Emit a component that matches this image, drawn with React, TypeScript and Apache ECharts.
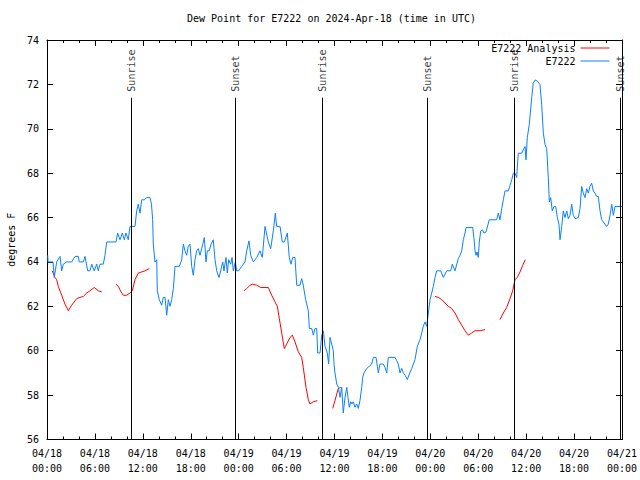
import React, { useEffect, useRef } from 'react';
import * as echarts from 'echarts';

const TITLE = 'Dew Point for E7222 on 2024-Apr-18 (time in UTC)';
const Y_AXIS_NAME = 'degrees F';
const BASE_UTC = Date.UTC(2024, 3, 18, 0, 0);
const Y_MIN = 56;
const Y_MAX = 74;
const Y_STEP = 2;
const X_MIN = 0;
const X_MAX = 72;
const X_STEP = 6;

const SERIES_NAMES = ['E7222 Analysis', 'E7222'];

// Sunrise / sunset times (hours after 2024-04-18 00:00 UTC)
const SUN_HOURS = [10.55, 23.63, 34.48, 47.62, 58.52, 71.75];
const SUN_LABELS = ['Sunrise', 'Sunset', 'Sunrise', 'Sunset', 'Sunrise', 'Sunset'];
const SUN_MARK_TOP = 71.4;

// Observed dew point E7222: [hours after 2024-04-18 00:00 UTC, degF]
const OBS: [number, number][] = [
  [0.09, 64.3], [0.13, 64.0], [0.75, 64.0], [0.91, 63.3], [1.21, 64.0], [1.63, 64.25], [1.84, 63.6],
  [2.04, 63.9], [2.47, 64.0], [3.09, 64.0], [3.51, 64.25], [3.92, 64.25], [4.04, 64.0], [4.55, 64.0],
  [4.76, 64.25], [5.1, 63.6], [5.38, 63.6], [5.6, 63.9], [5.92, 63.6], [6.22, 63.9], [6.42, 63.6],
  [6.64, 63.9], [7.05, 63.9], [7.26, 64.3], [7.48, 64.9], [8.64, 64.9], [8.85, 65.3], [9.14, 65.0],
  [9.43, 65.3], [9.68, 65.0], [9.89, 65.3], [10.18, 65.0], [10.39, 65.6], [11.02, 65.6], [11.23, 66.3],
  [11.43, 66.6], [11.65, 66.2], [11.86, 66.8], [12.18, 66.8], [12.48, 66.9], [12.9, 66.9], [13.08, 66.6],
  [13.23, 65.9], [13.31, 64.8], [13.52, 64.0], [13.74, 64.1], [13.81, 62.7], [14.06, 62.3], [14.36, 62.05],
  [14.56, 62.4], [14.78, 62.4], [14.99, 61.6], [15.19, 62.3], [15.4, 62.0], [15.61, 62.3], [15.82, 62.8],
  [16.03, 63.8], [16.57, 63.8], [16.87, 64.1], [17.07, 64.8], [17.28, 64.5], [17.49, 64.3], [17.69, 64.7],
  [17.91, 64.8], [18.12, 63.8], [18.32, 63.4], [18.53, 64.1], [18.75, 64.5], [18.95, 64.6], [19.16, 64.3],
  [19.5, 64.8], [19.7, 65.1], [19.91, 64.0], [20.07, 64.5], [20.32, 64.5], [20.54, 64.8], [20.82, 65.0],
  [21.04, 64.1], [21.25, 63.6], [21.54, 63.3], [21.75, 63.6], [22.0, 64.0], [22.16, 63.6], [22.41, 64.2],
  [22.58, 63.5], [22.75, 64.1], [23.0, 63.9], [23.17, 64.2], [23.33, 63.6], [23.58, 64.0], [23.75, 63.6],
  [24.0, 63.6], [24.38, 63.8], [24.79, 64.0], [25.01, 64.5], [25.29, 64.95], [25.51, 64.3], [25.83, 64.0],
  [26.26, 64.2], [26.67, 64.5], [26.96, 64.2], [27.3, 65.6], [27.71, 64.9], [28.01, 64.6], [28.34, 65.4],
  [28.59, 66.2], [28.76, 65.6], [29.18, 65.6], [29.46, 64.9], [29.71, 64.9], [30.09, 65.3], [30.34, 64.2],
  [30.55, 63.9], [30.77, 64.2], [31.05, 64.2], [31.27, 62.95], [31.68, 62.95], [31.89, 63.25], [32.09, 62.95],
  [32.39, 62.3], [32.72, 61.8], [32.85, 61.0], [33.15, 61.0], [33.35, 60.7], [33.56, 61.0], [33.77, 61.0],
  [33.9, 59.9], [34.19, 59.9], [34.4, 60.7], [34.6, 60.9], [34.81, 60.2], [35.1, 59.9], [35.27, 59.4],
  [35.44, 60.6], [35.65, 60.3], [35.85, 60.0], [35.94, 59.4], [36.06, 59.0], [36.28, 58.5], [36.48, 58.35],
  [36.69, 57.9], [36.9, 58.35], [37.1, 57.2], [37.32, 57.9], [37.53, 58.35], [37.69, 57.9], [37.85, 57.45],
  [38.03, 57.7], [38.19, 57.6], [38.35, 57.7], [38.57, 57.45], [38.78, 57.6], [38.98, 57.4], [39.19, 57.75],
  [39.41, 58.35], [39.53, 58.8], [39.7, 59.0], [40.03, 59.2], [40.36, 59.3], [40.66, 59.4], [40.86, 59.7],
  [41.2, 59.7], [41.49, 59.0], [41.7, 59.4], [42.11, 59.4], [42.32, 59.25], [42.54, 59.0], [42.74, 59.7],
  [43.58, 59.7], [43.79, 59.55], [43.99, 59.4], [44.2, 59.0], [44.42, 59.2], [44.62, 59.0], [44.83, 58.9],
  [45.12, 58.7], [45.37, 58.95], [45.67, 59.2], [46.08, 59.6], [46.37, 60.2], [46.71, 60.5], [46.92, 60.8],
  [47.12, 61.1], [47.33, 61.3], [47.54, 61.1], [47.75, 61.7], [47.96, 62.3], [48.17, 62.6], [48.37, 62.9],
  [48.59, 63.3], [48.8, 63.6], [49.3, 63.6], [49.63, 63.3], [50.05, 63.6], [50.55, 63.6], [50.75, 63.9],
  [51.09, 63.6], [51.5, 64.15], [51.72, 64.3], [51.93, 64.5], [52.13, 65.0], [52.34, 65.3], [52.47, 65.55],
  [53.31, 65.55], [53.47, 65.05], [53.59, 64.5], [53.72, 64.3], [53.84, 64.45], [54.01, 64.2], [54.13, 64.9],
  [54.31, 65.4], [54.53, 65.45], [54.72, 65.3], [54.97, 65.35], [55.38, 65.9], [56.31, 65.9], [56.51, 66.2],
  [56.72, 65.9], [56.94, 66.4], [57.14, 66.8], [57.35, 67.2], [57.76, 67.2], [57.98, 67.45], [58.19, 67.7],
  [58.39, 68.0], [58.6, 68.0], [58.81, 67.8], [59.01, 68.9], [59.44, 68.9], [59.64, 69.05], [59.85, 69.2],
  [59.98, 68.6], [60.14, 69.6], [60.39, 70.2], [60.69, 71.4], [60.89, 72.05], [61.11, 72.2], [61.4, 72.15],
  [61.73, 72.0], [61.94, 71.1], [62.15, 69.8], [62.36, 69.3], [62.57, 69.1], [62.77, 67.8], [62.9, 66.7],
  [63.07, 66.9], [63.27, 66.3], [63.48, 66.5], [63.7, 66.5], [63.9, 66.0], [64.11, 65.7], [64.24, 65.0],
  [64.45, 65.6], [64.65, 66.3], [64.86, 66.0], [65.08, 66.3], [65.28, 65.95], [65.49, 66.1], [65.7, 66.6],
  [65.9, 66.1], [66.12, 65.95], [66.53, 66.0], [66.74, 66.4], [66.95, 67.4], [67.15, 67.1], [67.37, 66.9],
  [67.58, 67.3], [67.78, 67.1], [67.99, 67.4], [68.2, 67.55], [68.41, 67.2], [68.62, 67.1], [68.83, 66.95],
  [69.03, 66.95], [69.25, 66.3], [69.46, 65.9], [69.87, 65.7], [70.08, 65.6], [70.28, 65.7], [70.5, 66.1],
  [70.71, 66.6], [70.92, 66.1], [71.12, 66.5], [72.0, 66.5],
];

// Analysis dew point: null marks a gap
const ANALYSIS: [number, number | null][] = [
  [0.66, 63.6], [1.0, 63.3], [1.21, 63.2], [1.41, 62.9], [1.84, 62.5], [2.25, 62.1], [2.67, 61.8],
  [3.09, 62.05], [3.72, 62.35], [4.13, 62.4], [4.55, 62.45], [4.97, 62.6], [5.38, 62.7], [5.92, 62.85],
  [6.42, 62.7], [6.85, 62.65], [7.5, null],
  [8.64, 63.0], [8.93, 62.9], [9.27, 62.65], [9.55, 62.5], [9.98, 62.5], [10.39, 62.6], [10.68, 62.7],
  [11.02, 63.2], [11.43, 63.5], [11.86, 63.55], [12.27, 63.6], [12.81, 63.7], [20.0, null],
  [24.67, 62.7], [25.01, 62.8], [25.42, 62.95], [25.76, 63.0], [26.26, 62.95], [26.76, 62.85], [27.71, 62.85],
  [28.14, 62.5], [28.55, 62.2], [28.84, 62.0], [29.09, 61.45], [29.39, 60.8], [29.71, 60.1], [30.01, 60.3],
  [30.43, 60.6], [30.72, 60.7], [31.05, 60.4], [31.47, 59.95], [31.89, 59.7], [32.09, 59.25], [32.43, 58.35],
  [32.72, 57.8], [32.93, 57.6], [33.35, 57.7], [33.85, 57.75], [34.5, null],
  [35.78, 57.4], [36.06, 57.75], [36.28, 58.05], [36.48, 58.3], [36.78, 58.35], [42.0, null],
  [48.59, 62.45], [49.0, 62.4], [49.43, 62.3], [49.84, 62.15], [50.25, 62.0], [50.68, 61.9], [51.09, 61.7],
  [51.5, 61.4], [51.93, 61.15], [52.34, 60.9], [52.75, 60.7], [53.18, 60.8], [53.59, 60.9], [54.22, 60.9],
  [54.85, 60.95], [55.5, null],
  [56.72, 61.4], [57.14, 61.7], [57.56, 61.95], [57.98, 62.35], [58.31, 62.7], [58.6, 63.2], [58.89, 63.3],
  [59.23, 63.55], [59.57, 63.85], [59.89, 64.1],
];

const FONT = 'DejaVu Sans Mono';
const BLACK = '#000000';
const RED = '#ff0000';
const BLUE = '#0a80ff';

function pad(n: number) {
  return String(n).padStart(2, '0');
}

function xLabel(v: number) {
  const d = new Date(BASE_UTC + Math.round(v * 3600000));
  return `${pad(d.getUTCMonth() + 1)}/${pad(d.getUTCDate())}\n${pad(d.getUTCHours())}:${pad(d.getUTCMinutes())}`;
}

export default function App() {
  const ref = useRef<HTMLDivElement>(null);

  useEffect(() => {
    if (!ref.current) return;
    const chart = echarts.init(ref.current, undefined, { renderer: 'svg' });

    const axisLine = { show: true, onZero: false, lineStyle: { color: BLACK, width: 1 } };
    const axisTick = { show: true, inside: true, length: 6, lineStyle: { color: BLACK, width: 1 } };
    const minorTick = { show: true, splitNumber: 3, length: 3, lineStyle: { color: BLACK, width: 1 } };
    const labelStyle = { fontFamily: FONT, fontSize: 10, color: BLACK };

    const xBase = {
      type: 'value' as const,
      min: X_MIN,
      max: X_MAX,
      interval: X_STEP,
      axisLine,
      axisTick,
      minorTick,
      splitLine: { show: false },
      minorSplitLine: { show: false },
    };
    const yBase = {
      type: 'value' as const,
      min: Y_MIN,
      max: Y_MAX,
      interval: Y_STEP,
      axisLine,
      axisTick,
      splitLine: { show: false },
    };

    chart.setOption({
      animation: false,
      backgroundColor: '#ffffff',
      title: {
        text: TITLE,
        left: 187,
        top: 13,
        padding: 0,
        textStyle: { fontFamily: FONT, fontSize: 10, fontWeight: 'normal', color: BLACK },
      },
      legend: {
        data: SERIES_NAMES,
        orient: 'vertical',
        right: 30,
        top: 43,
        align: 'right',
        itemWidth: 29,
        itemHeight: 10,
        itemGap: 3,
        padding: 0,
        selectedMode: false,
        itemStyle: { opacity: 0 },
        lineStyle: { width: 1 },
        textStyle: { fontFamily: FONT, fontSize: 10, color: BLACK },
      },
      grid: {
        left: 47,
        right: 18,
        top: 40,
        bottom: 40.5,
        containLabel: false,
        outerBoundsMode: 'none',
      },
      xAxis: [
        {
          ...xBase,
          position: 'bottom',
          axisLabel: { ...labelStyle, lineHeight: 15, margin: 6, formatter: xLabel, showMinLabel: true, showMaxLabel: true },
        },
        { ...xBase, position: 'top', axisLabel: { show: false } },
      ],
      yAxis: [
        {
          ...yBase,
          position: 'left',
          name: Y_AXIS_NAME,
          nameLocation: 'middle',
          nameRotate: 90,
          nameGap: 31,
          nameTextStyle: { fontFamily: FONT, fontSize: 10, color: BLACK },
          axisLabel: { ...labelStyle, margin: 8 },
        },
        { ...yBase, position: 'right', axisLabel: { show: false } },
      ],
      series: [
        {
          name: SERIES_NAMES[0],
          type: 'line',
          data: ANALYSIS.map(([h, v]) => [h, v === null ? '-' : v]),
          connectNulls: false,
          symbol: 'none',
          color: RED,
          lineStyle: { color: RED, width: 1 },
          z: 3,
        },
        {
          name: SERIES_NAMES[1],
          type: 'line',
          data: OBS,
          symbol: 'none',
          color: BLUE,
          lineStyle: { color: BLUE, width: 1 },
          z: 3,
        },
        {
          name: 'sun',
          type: 'scatter',
          data: SUN_HOURS.map((h) => [h, SUN_MARK_TOP]),
          symbolSize: 0.1,
          itemStyle: { color: 'rgba(0,0,0,0)' },
          silent: true,
          label: {
            show: true,
            position: 'top',
            distance: 6,
            rotate: 90,
            align: 'left',
            verticalAlign: 'middle',
            fontFamily: FONT,
            fontSize: 10,
            color: BLACK,
            formatter: (p: any) => SUN_LABELS[p.dataIndex],
          },
          markLine: {
            silent: true,
            symbol: ['none', 'none'],
            label: { show: false },
            lineStyle: { color: BLACK, width: 1, type: 'solid' },
            emphasis: { disabled: true },
            data: SUN_HOURS.map((h) => [{ coord: [h, Y_MIN] }, { coord: [h, SUN_MARK_TOP] }]),
          },
          z: 2,
        },
      ],
    });

    return () => chart.dispose();
  }, []);

  return (
    <div
      ref={ref}
      style={{ position: 'absolute', left: 0, top: 0, width: 640, height: 480, background: '#fff' }}
    />
  );
}
